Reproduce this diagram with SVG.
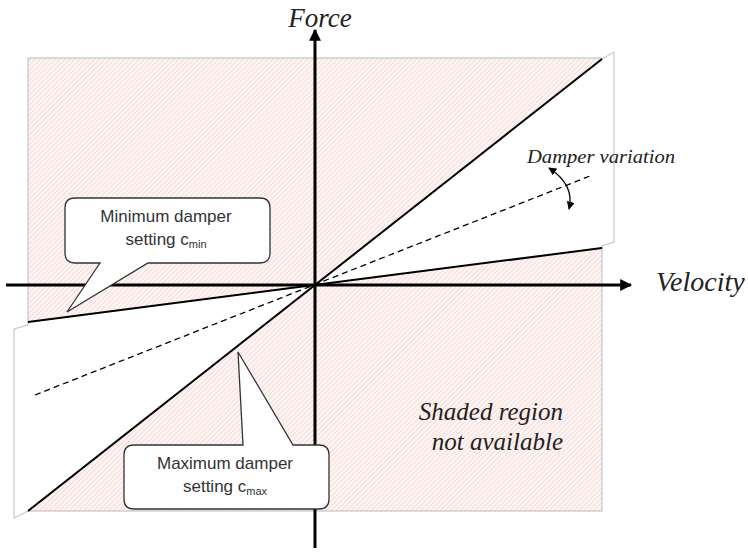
<svg xmlns="http://www.w3.org/2000/svg" width="748" height="552" viewBox="0 0 748 552">
<defs>
<pattern id="hatch" width="3.5" height="3.5" patternUnits="userSpaceOnUse" patternTransform="rotate(45)">
<rect width="3.5" height="3.5" fill="#fdf5f3"/>
<line x1="0" y1="0" x2="0" y2="3.5" stroke="#f2cdc7" stroke-width="1.2"/>
</pattern>
<marker id="ah" viewBox="0 0 10 10" refX="9" refY="5" markerWidth="12" markerHeight="12" markerUnits="userSpaceOnUse" orient="auto">
<path d="M0,0 L10,5 L0,10 z" fill="#000"/>
</marker>
<marker id="sh" viewBox="0 0 10 10" refX="9" refY="5" markerWidth="8" markerHeight="8" markerUnits="userSpaceOnUse" orient="auto-start-reverse">
<path d="M0,0 L10,5 L0,10 z" fill="#000"/>
</marker>
</defs>
<style>
.ital{font-family:"Liberation Serif","Times New Roman",serif;font-style:italic;fill:#222}
.call{font-family:"Liberation Sans",Arial,sans-serif;font-size:17px;fill:#333}
.bubble{fill:#fff;stroke:#333;stroke-width:1.3}
.white{fill:#fff;stroke:#bbb;stroke-width:1}
.axis{stroke:#000;stroke-width:3;fill:none}
.lim{stroke:#000;stroke-width:2;fill:none}
</style>
<rect id="shaded" x="28" y="58" width="574" height="453" fill="url(#hatch)" stroke="#bbb" stroke-width="1"/>
<g id="available">
<polygon class="white" points="315,285 602,59 614,52 614,242 602,246 602,248"/>
<polygon class="white" points="315,285 28,322 28,325 14,329 14,518 28,511"/>
</g>
<g id="connectors">
<line class="axis" x1="315" y1="548" x2="315" y2="30" marker-end="url(#ah)"/>
<line class="axis" x1="6" y1="285" x2="631" y2="285" marker-end="url(#ah)"/>
<line class="lim" x1="28" y1="511" x2="602" y2="59"/>
<line class="lim" x1="28" y1="322" x2="602" y2="248"/>
<line x1="35" y1="395" x2="590" y2="176" stroke="#000" stroke-width="1.3" stroke-dasharray="6,4"/>
<path d="M549,168 Q575,185 569,209" fill="none" stroke="#000" stroke-width="1.3" marker-start="url(#sh)" marker-end="url(#sh)"/>
</g>
<text class="ital" x="320" y="27" font-size="27" text-anchor="middle">Force</text>
<text class="ital" x="656" y="291" font-size="28">Velocity</text>
<text class="ital" x="527" y="163" font-size="18" textLength="148" lengthAdjust="spacingAndGlyphs">Damper variation</text>
<text class="ital" font-size="25" text-anchor="end"><tspan x="563" y="420">Shaded region</tspan><tspan x="563" y="450">not available</tspan></text>
<g id="callout-min">
<path class="bubble" d="M75,198 H260 Q270,198 270,208 V253 Q270,263 260,263 H148 L67,312 L100,263 H75 Q65,263 65,253 V208 Q65,198 75,198 Z"/>
<text class="call" x="166" y="222" text-anchor="middle">Minimum damper</text>
<text class="call" x="166" y="245" text-anchor="middle">setting c<tspan font-size="11" dy="3">min</tspan></text>
</g>
<g id="callout-max">
<path class="bubble" d="M134,445 H243 L238,352 L293,445 H319 Q329,445 329,455 V499 Q329,509 319,509 H134 Q124,509 124,499 V455 Q124,445 134,445 Z"/>
<text class="call" x="225" y="469" text-anchor="middle">Maximum damper</text>
<text class="call" x="225" y="492" text-anchor="middle">setting c<tspan font-size="11" dy="3">max</tspan></text>
</g>
</svg>
